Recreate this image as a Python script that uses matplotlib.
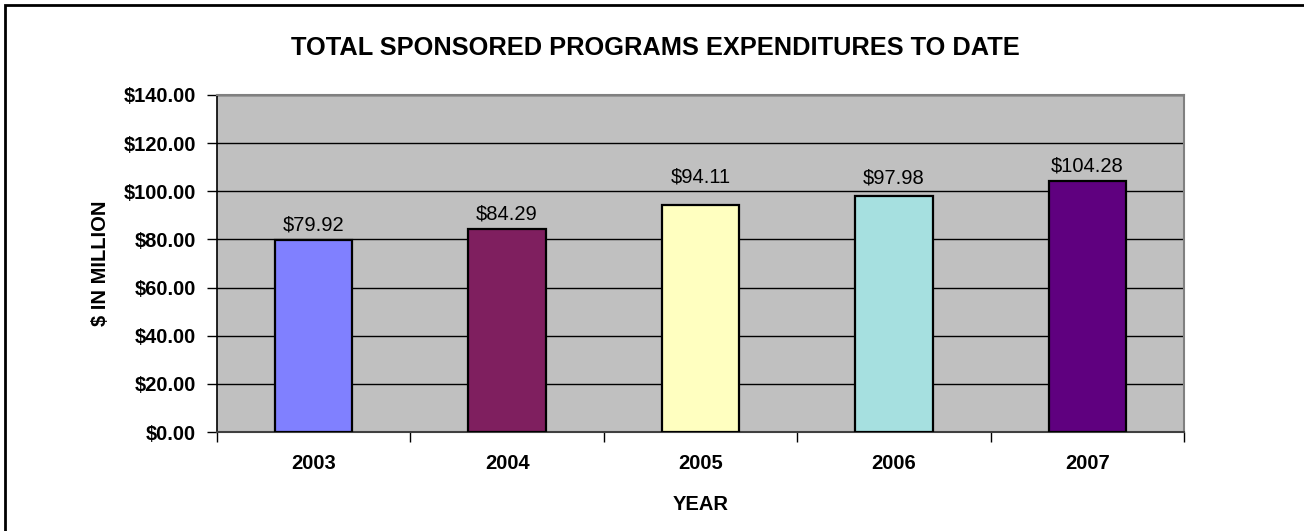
import matplotlib
matplotlib.use("Agg")
import matplotlib.pyplot as plt
from matplotlib.patches import Rectangle
from matplotlib.ticker import FixedLocator, NullFormatter

plt.rcParams['font.family'] = ['Liberation Sans', 'DejaVu Sans']

years = ['2003', '2004', '2005', '2006', '2007']
expenditures = [79.92, 84.29, 94.11, 97.98, 104.28]
bar_colors = ['#8080FF', '#7F1F5F', '#FFFFC0', '#A6E0E0', '#5F007F']
label_offsets = [4, 4, 14, 6, 4]  # points above each bar top
y_ticks = [0, 20, 40, 60, 80, 100, 120, 140]

fig = plt.figure(figsize=(13.04, 5.31), dpi=100)
ax = fig.add_axes([217 / 1304, 1 - 432 / 531, (1184 - 217) / 1304, (432 - 95) / 531])

# chart frame
fig.patches.append(Rectangle((5 / 1304, -0.05), 1.1, 1 - 5 / 531 + 0.05,
                             transform=fig.transFigure, fill=False,
                             edgecolor='black', linewidth=2, zorder=0))

ax.set_facecolor('#C0C0C0')
x = list(range(len(years)))
bars = ax.bar(x, expenditures, width=0.4, color=bar_colors,
              edgecolor='black', linewidth=1.6, zorder=3)

for xi, v, off in zip(x, expenditures, label_offsets):
    ax.annotate(f'${v:.2f}', xy=(xi, v), xytext=(0, off), textcoords='offset points',
                ha='center', va='bottom', fontsize=14.5, color='black', zorder=4)

ax.set_xlim(-0.5, len(years) - 0.5)
ax.set_ylim(0, 140)
ax.set_yticks(y_ticks)
ax.set_yticklabels([f'${t:.2f}' for t in y_ticks], fontsize=14.5, fontweight='bold')
ax.yaxis.grid(True, color='black', linewidth=1, zorder=1)
ax.set_axisbelow(True)

ax.set_xticks(x)
ax.set_xticklabels(years, fontsize=14.5, fontweight='bold')
ax.tick_params(axis='x', which='major', length=0, pad=16)
ax.xaxis.set_minor_locator(FixedLocator([i - 0.5 for i in range(len(years) + 1)]))
ax.xaxis.set_minor_formatter(NullFormatter())
ax.tick_params(axis='x', which='minor', length=7, width=1, color='black', direction='out')
ax.tick_params(axis='y', length=7, width=1, color='black', direction='out', pad=8)

ax.set_xlabel('YEAR', fontsize=14.5, fontweight='bold', labelpad=16)
ax.set_ylabel('$ IN MILLION', fontsize=14.5, fontweight='bold', labelpad=10)
fig.text(655 / 1304, 1 - 48 / 531, 'TOTAL SPONSORED PROGRAMS EXPENDITURES TO DATE',
         fontsize=18.3, fontweight='bold', ha='center', va='center')

for side in ['top', 'right']:
    ax.spines[side].set_color('#808080')
    ax.spines[side].set_linewidth(1.5)
ax.spines['left'].set_color('black')
ax.spines['left'].set_linewidth(1.2)
ax.spines['bottom'].set_color('#404040')
ax.spines['bottom'].set_linewidth(1.5)

fig.savefig('out.png', dpi=100, facecolor='white')
